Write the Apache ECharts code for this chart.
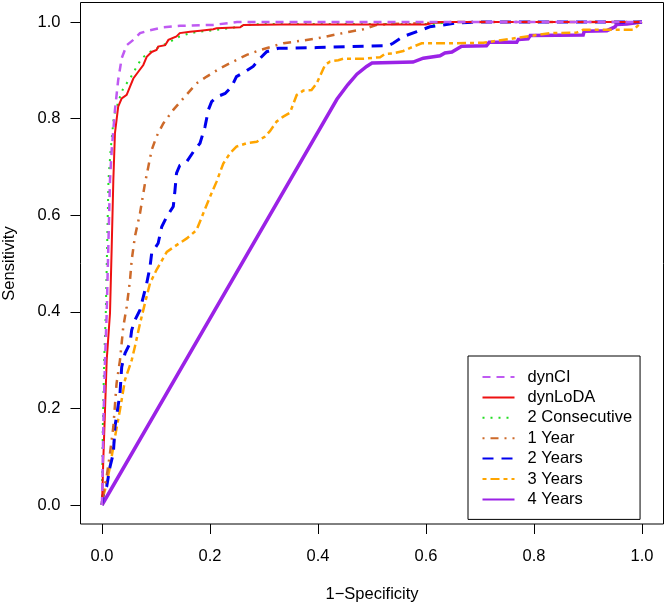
<!DOCTYPE html>
<html>
<head>
<meta charset="utf-8">
<script src="https://cdn.jsdelivr.net/npm/echarts@6/dist/echarts.min.js"></script>
<style>html,body{margin:0;padding:0;background:#fff;}#c{width:666px;height:607px;}</style>
</head>
<body>
<div id="c"></div>
<script>
const seriesNames = ['dynCI', 'dynLoDA', '2 Consecutive', '1 Year', '2 Years', '3 Years', '4 Years'];
const xTicks = [0, 0.2, 0.4, 0.6, 0.8, 1.0];
const yTicks = [0, 0.2, 0.4, 0.6, 0.8, 1.0];

const dynCI = [[0,0],[0.0024,0.162],[0.0056,0.300],[0.0087,0.397],[0.0117,0.535],[0.0148,0.673],[0.018,0.735],[0.024,0.818],[0.030,0.880],[0.0365,0.925],[0.0457,0.952],[0.058,0.963],[0.0704,0.977],[0.0889,0.983],[0.1135,0.989],[0.1444,0.992],[0.206,0.994],[0.243,0.999],[0.25,1],[1,1]];
const dynLoDA = [[0,0],[0.0024,0.093],[0.0056,0.197],[0.0087,0.300],[0.0148,0.397],[0.018,0.535],[0.021,0.673],[0.024,0.770],[0.030,0.825],[0.0365,0.842],[0.0457,0.849],[0.0519,0.866],[0.058,0.883],[0.0672,0.897],[0.0765,0.911],[0.0828,0.928],[0.092,0.938],[0.101,0.942],[0.104,0.949],[0.117,0.952],[0.123,0.963],[0.138,0.970],[0.144,0.977],[0.163,0.980],[0.182,0.982],[0.206,0.985],[0.212,0.987],[0.256,0.989],[0.262,0.994],[0.33,0.995],[0.60,0.995],[0.62,1],[1,1]];
const consec2 = [[0,0],[0.0015,0.162],[0.004,0.300],[0.007,0.397],[0.0095,0.535],[0.012,0.673],[0.016,0.735],[0.022,0.805],[0.0333,0.845],[0.0394,0.863],[0.0519,0.883],[0.061,0.901],[0.0735,0.925],[0.0889,0.938],[0.107,0.949],[0.126,0.959],[0.144,0.970],[0.163,0.977],[0.182,0.980],[0.206,0.983],[0.237,0.987],[0.268,0.994],[0.30,0.996],[0.62,0.996],[0.64,1],[1,1]];
const year1 = [[0,0],[0.0024,0.024],[0.0087,0.059],[0.0148,0.107],[0.021,0.162],[0.027,0.252],[0.0333,0.300],[0.0394,0.369],[0.0457,0.41],[0.0519,0.466],[0.055,0.507],[0.061,0.556],[0.0704,0.604],[0.0796,0.666],[0.0857,0.700],[0.092,0.735],[0.101,0.763],[0.1135,0.790],[0.132,0.818],[0.1506,0.842],[0.175,0.873],[0.194,0.887],[0.2185,0.904],[0.243,0.918],[0.268,0.932],[0.293,0.942],[0.336,0.956],[0.398,0.966],[0.459,0.980],[0.484,0.985],[0.509,0.994],[0.533,0.996],[0.613,0.998],[0.65,1],[1,1]];
const years2 = [[0,0],[0.0024,0.024],[0.0087,0.038],[0.0148,0.079],[0.021,0.107],[0.024,0.162],[0.0333,0.231],[0.0365,0.286],[0.0426,0.314],[0.0519,0.335],[0.055,0.362],[0.061,0.383],[0.0704,0.404],[0.0765,0.431],[0.0828,0.459],[0.0889,0.493],[0.092,0.521],[0.104,0.542],[0.1106,0.576],[0.12,0.597],[0.132,0.618],[0.135,0.650],[0.138,0.687],[0.144,0.703],[0.157,0.711],[0.169,0.731],[0.1815,0.749],[0.1907,0.783],[0.197,0.818],[0.203,0.835],[0.2124,0.845],[0.228,0.852],[0.240,0.866],[0.249,0.887],[0.265,0.897],[0.280,0.908],[0.293,0.925],[0.305,0.9385],[0.3265,0.9455],[0.398,0.947],[0.459,0.949],[0.530,0.951],[0.539,0.956],[0.558,0.970],[0.583,0.980],[0.607,0.990],[0.632,0.994],[0.657,0.998],[0.706,1],[1,1]];
const years3 = [[0,0],[0,0.01],[0.0056,0.031],[0.0148,0.079],[0.024,0.141],[0.0333,0.197],[0.0426,0.259],[0.055,0.300],[0.061,0.328],[0.0704,0.376],[0.0796,0.418],[0.0889,0.459],[0.101,0.487],[0.12,0.524],[0.138,0.538],[0.157,0.552],[0.175,0.569],[0.1876,0.604],[0.2,0.638],[0.212,0.669],[0.2246,0.707],[0.237,0.728],[0.249,0.742],[0.268,0.749],[0.2865,0.752],[0.302,0.763],[0.311,0.774],[0.3235,0.794],[0.3357,0.804],[0.348,0.812],[0.3606,0.849],[0.3728,0.858],[0.388,0.859],[0.3976,0.873],[0.413,0.911],[0.422,0.918],[0.4376,0.921],[0.447,0.924],[0.484,0.924],[0.515,0.927],[0.524,0.934],[0.539,0.935],[0.558,0.940],[0.570,0.946],[0.592,0.956],[0.644,0.956],[0.706,0.957],[0.793,0.971],[0.830,0.977],[0.879,0.978],[0.891,0.984],[0.985,0.984],[0.99,0.99],[1,1]];
const years4 = [[0,0],[0.435,0.84],[0.455,0.87],[0.472,0.892],[0.49,0.908],[0.5,0.915],[0.576,0.917],[0.595,0.925],[0.626,0.93],[0.635,0.936],[0.648,0.938],[0.666,0.95],[0.712,0.951],[0.717,0.958],[0.768,0.958],[0.771,0.964],[0.789,0.965],[0.793,0.972],[0.891,0.973],[0.893,0.981],[0.935,0.982],[0.95,0.99],[0.953,0.995],[0.972,0.996],[1,1]];

const seriesData = [dynCI, dynLoDA, consec2, year1, years2, years3, years4];
const colors = ['#BF5AF2', '#EE1111', '#22DD22', '#CD6A2A', '#0000EE', '#FFA500', '#9B22E6'];
const widths = [2.5, 2, 2, 2.5, 3, 2.5, 3.5];
const dashes = [[8,6], 'solid', [2,6], [2,6,8,6], [11,8], [4,4,9,4], 'solid'];

const FONT = '"Liberation Sans", Arial, Helvetica, sans-serif';
const FS = 16.5;
const tickFmt = ticks => v => { const t = ticks.find(k => Math.abs(k - v) < 1e-9); return t === undefined ? '' : t.toFixed(1); };
const hiddenAxis = (gi) => ({type: 'value', min: 0, max: 1, gridIndex: gi, show: false});

const chart = echarts.init(document.getElementById('c'), null, {renderer: 'canvas'});
const option = {
  animation: false,
  backgroundColor: '#fff',
  grid: [
    {left: 102, right: 24, top: 22, bottom: 102, containLabel: false, outerBoundsMode: 'none'},
    {left: 102, right: 24, top: 22, bottom: 83, containLabel: false, outerBoundsMode: 'none'},
    {left: 80.5, right: 24, top: 22, bottom: 102, containLabel: false, outerBoundsMode: 'none'}
  ],
  xAxis: [
    hiddenAxis(0),
    {
      type: 'value', gridIndex: 1, min: 0, max: 1, interval: 0.2,
      axisLine: {show: false},
      axisTick: {show: true, length: 10, lineStyle: {color: '#000', width: 1}},
      axisLabel: {margin: 24, color: '#000', fontSize: FS, fontFamily: FONT, formatter: tickFmt(xTicks)},
      splitLine: {show: false},
      name: '1\u2212Specificity', nameLocation: 'middle', nameGap: 62,
      nameTextStyle: {color: '#000', fontSize: FS, fontFamily: FONT}
    },
    hiddenAxis(2)
  ],
  yAxis: [
    hiddenAxis(0),
    hiddenAxis(1),
    {
      type: 'value', gridIndex: 2, min: 0, max: 1, interval: 0.2,
      axisLine: {show: false},
      axisTick: {show: true, length: 10, lineStyle: {color: '#000', width: 1}},
      axisLabel: {margin: 20, color: '#000', fontSize: FS, fontFamily: FONT, formatter: tickFmt(yTicks)},
      splitLine: {show: false},
      name: 'Sensitivity', nameLocation: 'middle', nameGap: 63,
      nameTextStyle: {color: '#000', fontSize: FS, fontFamily: FONT}
    }
  ],
  legend: {
    orient: 'vertical', left: 468, top: 356,
    data: seriesNames,
    itemWidth: 32, itemHeight: 14, itemGap: 3.4,
    padding: [12.5, 8, 11.5, 13.5],
    borderColor: '#000', borderWidth: 1, backgroundColor: '#fff',
    itemStyle: {color: 'rgba(0,0,0,0)', borderColor: 'rgba(0,0,0,0)', borderWidth: 0},
    textStyle: {color: '#000', fontSize: FS, fontFamily: FONT, padding: [0, 0, 0, 8]},
    selectedMode: false
  },
  graphic: [{
    type: 'rect', silent: true, z: 10,
    shape: {x: 80.5, y: 2.5, width: 583, height: 521.5},
    style: {fill: 'none', stroke: '#000', lineWidth: 1}
  }],
  series: seriesNames.map((n, i) => ({
    name: n, type: 'line', data: seriesData[i], symbol: 'none', clip: false,
    xAxisIndex: 0, yAxisIndex: 0,
    lineStyle: {color: colors[i], width: widths[i], type: dashes[i], cap: 'butt', join: 'miter'},
    itemStyle: {color: colors[i]},
    z: 2 + (6 - i)
  }))
};
chart.setOption(option);
</script>
</body>
</html>
